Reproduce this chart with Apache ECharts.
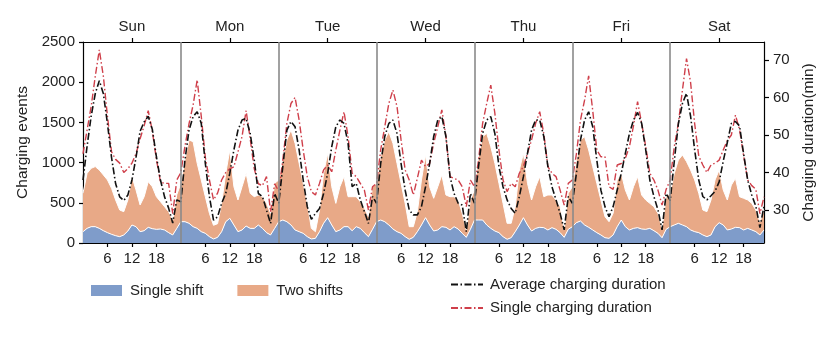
<!DOCTYPE html>
<html><head><meta charset="utf-8">
<script src="https://cdn.jsdelivr.net/npm/echarts@6/dist/echarts.min.js"></script>
<style>html,body{margin:0;padding:0;background:#fff}#c{width:830px;height:346px}</style>
</head><body><div id="c"></div>
<script>
const days = ['Sun','Mon','Tue','Wed','Thu','Fri','Sat'];
const hourTicks = [6, 12, 18];
const durationTicks = [30, 40, 50, 60, 70];

const singleShift = [
  140,182,203,203,182,153,129,108,91,79,100,149,224,203,141,153,195,178,170,174,162,129,100,182,
  265,265,245,203,182,141,120,79,50,70,141,265,307,224,141,162,211,182,182,224,182,129,100,182,
  265,286,265,224,162,141,120,79,50,58,141,245,315,224,141,162,203,203,153,203,182,129,79,170,
  265,286,265,224,174,141,120,79,46,70,141,224,315,224,149,162,203,195,162,203,174,120,70,170,
  286,286,286,224,182,149,129,79,46,66,141,224,315,224,149,182,195,191,162,191,170,129,70,170,
  203,253,274,224,195,162,129,100,66,58,100,203,286,203,162,182,191,174,170,182,153,120,66,170,
  203,224,245,224,203,162,141,129,100,79,100,203,253,224,162,174,195,191,162,182,162,141,100,162
];
const twoShifts = [
  480,684,726,747,726,693,655,572,444,331,290,386,601,457,332,423,568,522,406,340,290,261,186,418,
  477,767,1036,1057,809,643,456,290,170,170,352,601,850,476,394,538,655,436,394,373,394,364,269,560,
  519,746,1016,1182,1078,850,622,414,132,83,269,621,800,476,352,538,622,373,423,373,332,302,249,530,
  477,788,1016,1161,1066,850,622,414,157,133,249,560,780,476,407,538,643,402,414,373,361,249,92,365,
  373,788,1037,1140,1016,842,613,414,199,179,311,684,800,518,386,518,630,385,435,406,365,323,92,448,
  497,779,1007,1099,962,787,613,435,262,207,269,581,580,456,373,518,634,423,365,311,299,249,116,406,
  415,642,787,871,809,746,643,489,310,311,435,581,655,435,373,547,609,385,394,353,331,269,165,248
];
const avgDuration = [
  38,47,55,61,64.5,61,53,44,37,33.5,32.5,34,38,44,51,53.5,55,51.5,44.2,38,33.5,30.5,26.5,32.7,
  32.2,43.3,51.3,54.9,56.2,53.1,42.4,33.6,27.3,28.2,31.8,34.4,39.8,46,51.3,54,54.4,50.4,43.3,34.4,33.6,30,26.4,34.4,
  31.8,41.6,51.3,53.6,52.2,46,38,30.9,27.5,29.1,30.4,34.4,39.8,46.9,52.2,54,53.1,47.8,36.2,37.1,32.7,29.6,26.4,33.6,
  31.8,42.4,49.6,53.1,54,50.4,42.4,35.3,30,28.7,28.7,30.9,36.2,42.4,49.6,54,54.9,49.6,38.9,34.4,31.8,31.3,24.2,34.4,
  31.8,41.6,50.4,54,54.9,50.4,41.6,36.2,32.7,30.4,29.1,33.6,38.9,45.1,51.3,54,54,49.6,41.6,36.2,32.7,29.1,24.7,33.6,
  31.8,39.8,48.7,54,56.2,52.2,43.3,35.3,30.9,28.2,30.9,35.3,39.8,45.1,50.4,54,56,53.1,46,38,33.6,30,24.7,34.4,
  32.5,43,53,58.4,61.1,55,46,38,33.6,32.7,33.8,35,37.5,43,48,53.1,53.6,52.4,45,38,34,31,25.3,31
];
const singleDuration = [
  45,51.3,57.6,65.6,72.7,65.6,55,45.5,43.5,42.5,40,41,42.5,45,49,52.5,56.5,51,43.5,37.5,37.1,37.1,29,38,
  40,47,53,58,64.7,55,44,38,32.7,34.5,38,40,41,41.5,45.5,49.6,56.5,49,41,37,36.5,38.9,29.5,37,
  35,43.3,53.1,58.4,60,54,46,38.9,34.9,34,37.1,40.7,42,40.2,46,51.3,56.2,49.6,39.8,38.9,37.1,35.3,30,36.2,
  37.1,46,52.2,58.4,62,57.6,48.7,40.7,38,34,38.5,43.3,41.6,42.4,47.8,52.2,56.7,49.6,38.9,38.4,38,36.2,30.9,38,
  36.2,43.3,53.1,58.4,63.3,55.8,46,38,34.9,37.1,36.2,39.8,41.6,45.1,48.7,53.1,56.2,50.4,41.6,39.8,38.9,35.3,31.3,37.1,
  38,45,54,59.3,65.8,56.5,46,44.2,44.2,36.2,35.5,42,42.4,43.8,46.9,52.5,58.9,53.1,46.9,39.8,38,35.3,31.3,35.5,
  38,46.9,53.1,62,70.4,64,53,44.4,42,40,42,42.5,43.3,46,48.5,50,55.3,51.5,44.5,38,36.5,35.5,29,33.5
];

const FONT = '"Liberation Sans", Arial, sans-serif';
const TXT = '#222';
const BLUE = '#7f9cca';
const ORANGE = '#e8a987';
const RED = '#cf3f4a';
const BLACK = '#111';

const hpd = 24;
const nPts = days.length * hpd;
const slots = Array.from({length: nPts}, (_, i) => String(i));
const isHourTick = i => hourTicks.indexOf(i % hpd) >= 0;
const isDayCenter = i => i % hpd === hpd / 2;
const dayBounds = days.slice(1).map((d, k) => String((k + 1) * hpd));

const axisLine = {show: true, lineStyle: {color: '#000', width: 1.2}};
const tickStyle = {color: '#000', width: 1.2};
const chart = echarts.init(document.getElementById('c'), null, {renderer: 'canvas'});
chart.setOption({
  animation: false,
  backgroundColor: '#fff',
  textStyle: {fontFamily: FONT},
  grid: {left: 83, right: 66, top: 42, bottom: 103},
  legend: [
    {
      data: ['Single shift', 'Two shifts'], left: 86, top: 278, icon: 'rect',
      itemWidth: 31, itemHeight: 11, itemGap: 34,
      textStyle: {fontSize: 15, color: TXT, fontFamily: FONT, padding: [0, 0, 0, 3]}
    },
    {
      data: ['Average charging duration', 'Single charging duration'], orient: 'vertical',
      left: 445, top: 272, itemWidth: 32, itemHeight: 14, itemGap: 8.5,
      itemStyle: {color: 'rgba(0,0,0,0)', borderWidth: 0, opacity: 0},
      textStyle: {fontSize: 15, color: TXT, fontFamily: FONT, padding: [0, 0, 0, 2]}
    }
  ],
  xAxis: [
    {
      type: 'category', data: slots, boundaryGap: false, position: 'bottom',
      axisLine: axisLine,
      axisTick: {show: true, interval: (i) => isHourTick(i), length: 4, lineStyle: tickStyle},
      axisLabel: {interval: (i) => isHourTick(i), formatter: v => String(Number(v) % hpd), fontSize: 15, color: TXT, margin: 8, fontFamily: FONT},
      splitLine: {show: false}
    },
    {
      type: 'category', data: slots, boundaryGap: false, position: 'top',
      axisLine: axisLine,
      axisTick: {show: true, interval: (i) => isDayCenter(i), length: 4, lineStyle: tickStyle},
      axisLabel: {interval: (i) => isDayCenter(i), formatter: v => days[Math.floor(Number(v) / hpd)], fontSize: 15, color: TXT, margin: 8, fontFamily: FONT},
      splitLine: {show: false}
    }
  ],
  yAxis: [
    {
      type: 'value', min: 0, max: 2500, interval: 500,
      name: 'Charging events', nameLocation: 'middle', nameGap: 44,
      nameTextStyle: {fontSize: 15.5, color: TXT, fontFamily: FONT},
      axisLine: axisLine,
      axisTick: {show: true, length: 4, lineStyle: tickStyle},
      axisLabel: {formatter: v => String(v), fontSize: 15, color: TXT, margin: 8, fontFamily: FONT},
      splitLine: {show: false}
    },
    {
      type: 'value', min: 21.2, max: 74.8, position: 'right',
      name: 'Charging duration(min)', nameLocation: 'middle', nameGap: 26, nameRotate: 90,
      nameTextStyle: {fontSize: 15.5, color: TXT, fontFamily: FONT},
      axisLine: axisLine,
      axisTick: {show: true, customValues: durationTicks, length: 5, lineStyle: tickStyle},
      axisLabel: {customValues: durationTicks, formatter: v => String(v), fontSize: 15, color: TXT, margin: 9, fontFamily: FONT},
      splitLine: {show: false}
    }
  ],
  series: [
    {
      name: 'Single shift', type: 'line', stack: 'events', data: singleShift,
      symbol: 'none', color: BLUE, itemStyle: {color: BLUE},
      lineStyle: {color: '#fff', width: 1}, areaStyle: {color: BLUE, opacity: 1}, z: 2
    },
    {
      name: 'Two shifts', type: 'line', stack: 'events', data: twoShifts,
      symbol: 'none', color: ORANGE, itemStyle: {color: ORANGE},
      lineStyle: {color: '#fff', width: 1}, areaStyle: {color: ORANGE, opacity: 1}, z: 2,
      markLine: {
        silent: true, symbol: ['none', 'none'], label: {show: false}, animation: false,
        lineStyle: {color: '#8a8a8a', width: 1.6, type: 'solid'},
        data: dayBounds.map(v => ({xAxis: v}))
      }
    },
    {
      name: 'Average charging duration', type: 'line', yAxisIndex: 1, data: avgDuration,
      symbol: 'none', color: BLACK, itemStyle: {color: BLACK},
      lineStyle: {color: BLACK, width: 1.6, type: [7, 2.5, 1.5, 2.5]}, z: 4
    },
    {
      name: 'Single charging duration', type: 'line', yAxisIndex: 1, data: singleDuration,
      symbol: 'none', color: RED, itemStyle: {color: RED},
      lineStyle: {color: RED, width: 1.4, type: [7, 2.5, 1.5, 2.5]}, z: 3
    }
  ]
});
</script></body></html>
